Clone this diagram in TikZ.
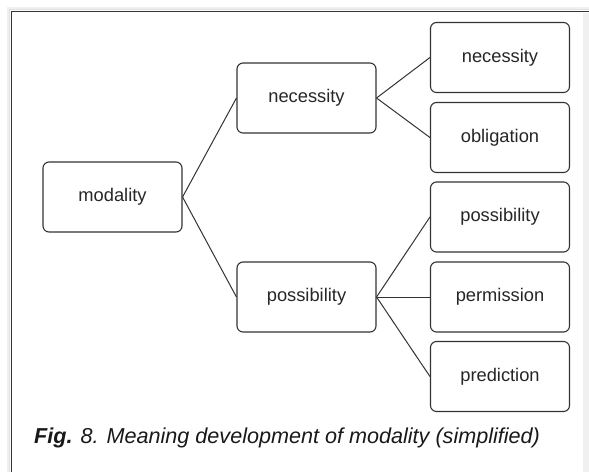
\documentclass[tikz,border=0pt]{standalone}
\usepackage{fontspec}
\setmainfont{Liberation Sans}
\begin{document}
\begin{tikzpicture}[x=1pt,y=-1pt,
  box/.style={draw=black!80, line width=1.1pt, rounded corners=6pt, minimum width=139pt, minimum height=70pt, inner sep=0pt, font=\fontsize{18.3}{21}\selectfont, text=black!85},
  conn/.style={draw=black!80, line width=1pt}]
\useasboundingbox (0,0) rectangle (589,472);
% frame shadow
\fill[black!6] (583,13) rectangle (589,472);
\draw[black!6, line width=3pt] (8,472) -- (8,8) -- (589,8);
\draw[black!12, line width=1.5pt] (9.5,472) -- (9.5,9.5) -- (589,9.5);
\draw[black!80, line width=1.5pt] (11.5,472) -- (11.5,11.5) -- (589,11.5);
% nodes
\node[box] (mod) at (112.5,197) {modality};
\node[box] (nec) at (306.5,98) {necessity};
\node[box] (pos) at (306.5,297) {possibility};
\node[box] (n1) at (500,57.5) {necessity};
\node[box] (n2) at (500,137.5) {obligation};
\node[box] (p1) at (500,217) {possibility};
\node[box] (p2) at (500,297) {permission};
\node[box] (p3) at (500,376.5) {prediction};
% connectors
\draw[conn] (mod.east) -- (nec.west);
\draw[conn] (mod.east) -- (pos.west);
\draw[conn] (nec.east) -- (n1.west);
\draw[conn] (nec.east) -- (n2.west);
\draw[conn] (pos.east) -- (p1.west);
\draw[conn] (pos.east) -- (p2.west);
\draw[conn] (pos.east) -- (p3.west);
% caption
\node[anchor=west, inner sep=0pt, font=\fontsize{21.6}{24}\selectfont\itshape, text=black!90] (cap) at (34,438) {\textbf{Fig.} 8. Meaning development of modality (simplified)};
\end{tikzpicture}
\end{document}
